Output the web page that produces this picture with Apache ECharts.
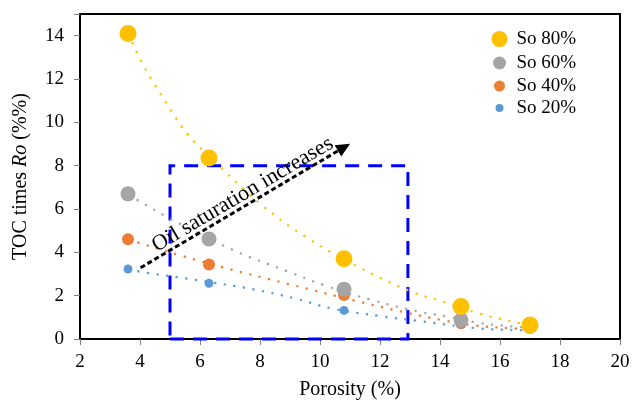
<!DOCTYPE html>
<html>
<head>
<meta charset="utf-8">
<script src="https://cdn.jsdelivr.net/npm/echarts@6/dist/echarts.min.js"></script>
<style>
html,body{margin:0;padding:0;background:#fff;}
#c{width:632px;height:402px;}
</style>
</head>
<body>
<div id="c"></div>
<script>
// ---- data ----
var porosity = [3.6, 6.3, 10.8, 14.7, 17.0];
var so80 = [14.1, 8.35, 3.7, 1.5, 0.65];
var so60 = [6.7, 4.62, 2.3, 0.88, 0.58];
var so40 = [4.6, 3.44, 2.03, 0.74, 0.55];
var so20 = [3.23, 2.57, 1.32, 0.66, 0.5];

// trend lines
var trend80 = [[3.6,14.1],[4.19,12.44],[5.22,10.15],[5.61,9.4],[6.3,8.45],[8.0,6.25],[9.61,4.64],[11.37,3.26],[13.11,2.15],[14.04,1.75],[15.3,1.18],[16.58,0.75],[17.0,0.65]];
var trend60 = [[3.6,6.65],[3.87,6.45],[5.0,5.56],[7.11,4.1],[8.92,3.12],[10.17,2.47],[11.72,1.8],[13.31,1.26],[14.28,1.03],[15.26,0.75],[16.22,0.6],[17.0,0.52]];
var trend40 = [[3.6,4.6],[3.91,4.46],[5.44,3.82],[6.78,3.3],[9.0,2.52],[11.22,1.75],[12.83,1.23],[14.11,0.86],[15.11,0.63],[16.41,0.49],[17.0,0.45]];
var trend20 = [[3.6,3.25],[3.91,3.13],[5.89,2.72],[7.78,2.29],[9.14,1.88],[10.39,1.41],[12.0,1.06],[13.31,0.83],[15.28,0.49],[16.61,0.41],[17.0,0.39]];

var seriesNames = ['So 80%', 'So 60%', 'So 40%', 'So 20%'];
var xTicks = [2, 4, 6, 8, 10, 12, 14, 16, 18, 20];
var yTicks = [0, 2, 4, 6, 8, 10, 12, 14];
var boxCorners = [[5, 0], [12.93, 8]];
var arrowEnds = [[4.02, 3.29], [10.8, 8.85]];
var arrowText = 'Oil saturation increases';

// ---- chart ----
var FONT = '"Liberation Serif", "Times New Roman", serif';
var colors = ['#FFC000', '#A5A5A5', '#ED7D31', '#5B9BD5'];
var sizes = [17, 15, 12, 9];
var legendSizes = [16, 13, 11, 8];
var legendCenters = [39, 63, 86, 108];
var values = [so80, so60, so40, so20];
var trends = [trend80, trend60, trend40, trend20];

function pts(ys) { return porosity.map(function (x, i) { return [x, ys[i]]; }); }

var series = [];
for (var k = 3; k >= 0; k--) {
  series.push({
    type: 'line', name: seriesNames[k] + ' trend', data: trends[k], smooth: 0.4,
    showSymbol: false, silent: true, z: 1,
    lineStyle: { color: colors[k], width: 2.2, type: [2.2, 7.5], cap: 'butt' }
  });
}
for (var j = 3; j >= 0; j--) {
  series.push({
    type: 'scatter', name: seriesNames[j], data: pts(values[j]),
    symbol: 'circle', symbolSize: sizes[j], z: 3,
    itemStyle: { color: colors[j], opacity: 1 }
  });
}
series.push({
  type: 'line', name: 'box', data: [], silent: true, z: 4,
  markArea: {
    silent: true,
    itemStyle: { color: 'rgba(0,0,0,0)', borderColor: '#0000FF', borderWidth: 3, borderType: [14, 9] },
    data: [[{ coord: boxCorners[0] }, { coord: boxCorners[1] }]]
  }
});
series.push({
  type: 'line', name: 'arrow', data: [], silent: true, z: 5,
  markLine: {
    silent: true, animation: false,
    symbol: ['none', 'triangle'], symbolSize: [13, 14],
    lineStyle: { color: '#000', width: 3, type: [5, 3] },
    label: {
      show: true, formatter: arrowText, position: 'insideMiddleTop', distance: 0,
      padding: [0, 0, 0, 14],
      color: '#000', fontFamily: FONT, fontSize: 22
    },
    data: [[{ coord: arrowEnds[0] }, { coord: arrowEnds[1] }]]
  }
});

var legends = seriesNames.map(function (n, i) {
  var w = legendSizes[i];
  return {
    data: [{ name: n, icon: 'circle' }],
    left: 499.5 - w / 2, top: legendCenters[i] - 11,
    itemWidth: w, itemHeight: w, itemGap: 0, padding: 0,
    textStyle: { fontFamily: FONT, fontSize: 19, color: '#000', lineHeight: 22, padding: [0, 0, 0, 17 - w / 2 - 5] },
    selectedMode: false
  };
});

var chart = echarts.init(document.getElementById('c'), null, { renderer: 'canvas' });
chart.setOption({
  animation: false,
  backgroundColor: '#fff',
  grid: { left: 80, right: 12, top: 14, bottom: 63, show: true, borderColor: '#000', borderWidth: 2, backgroundColor: 'transparent', containLabel: false, outerBoundsMode: 'none' },
  legend: legends,
  xAxis: {
    type: 'value', min: xTicks[0], max: xTicks[xTicks.length - 1], interval: 2,
    name: 'Porosity (%)', nameLocation: 'middle', nameGap: 41,
    nameTextStyle: { fontFamily: FONT, fontSize: 20, color: '#000' },
    axisLine: { lineStyle: { color: '#000', width: 2 } },
    axisTick: { show: true, length: 6, lineStyle: { color: '#7f7f7f', width: 1 } },
    axisLabel: { fontFamily: FONT, fontSize: 19, color: '#000', margin: 14 },
    splitLine: { show: false }
  },
  yAxis: {
    type: 'value', min: yTicks[0], max: 15, interval: 2,
    name: '{n|TOC times }{i|Ro}{n| (%%)}', nameLocation: 'middle', nameGap: 49, nameRotate: 90,
    nameTextStyle: {
      rich: {
        n: { fontFamily: FONT, fontSize: 20, color: '#000' },
        i: { fontFamily: FONT, fontSize: 20, color: '#000', fontStyle: 'italic' }
      }
    },
    axisLine: { show: true, lineStyle: { color: '#000', width: 2 } },
    axisTick: { show: true, length: 6, lineStyle: { color: '#7f7f7f', width: 1 } },
    axisLabel: {
      fontFamily: FONT, fontSize: 19, color: '#000', margin: 16,
      formatter: function (v) { return yTicks.indexOf(v) >= 0 ? String(v) : ''; }
    },
    splitLine: { show: false }
  },
  series: series
});
</script>
</body>
</html>
